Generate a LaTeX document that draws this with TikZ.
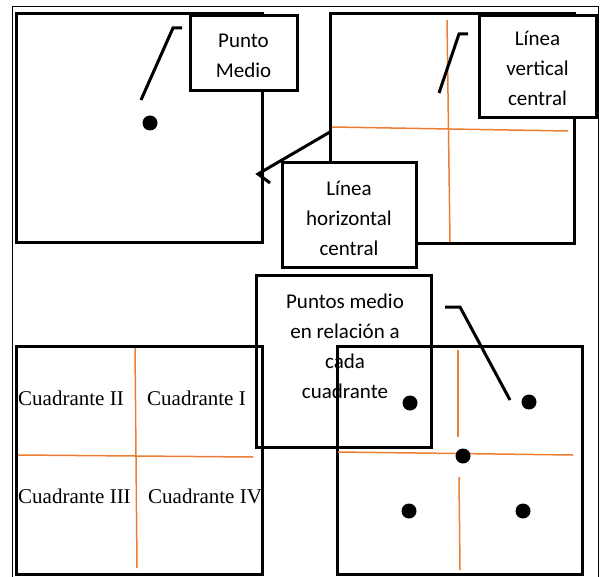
\documentclass[tikz,border=0pt]{standalone}
\usepackage{fontspec}
\setmainfont{Liberation Serif}
\newfontfamily\calibri{Carlito}
\definecolor{accentorange}{RGB}{237,125,49}
\tikzset{
  panel/.style={draw, line width=3bp, minimum width=245bp, minimum height=228bp, inner sep=0pt},
  textbox/.style={draw, fill=white, line width=3bp, inner sep=0pt},
  boxtext/.style={font=\calibri\fontsize{21bp}{30bp}\selectfont, align=center, inner sep=0pt, anchor=base},
  quadtext/.style={font=\fontsize{21bp}{25bp}\selectfont, inner sep=0pt, anchor=base west},
  midline/.style={draw=accentorange, line width=1.5bp},
  middot/.style={circle, fill, inner sep=0pt, minimum size=15bp},
  leader/.style={line width=3bp}
}
\begin{document}
\begin{tikzpicture}[x=1bp, y=-1bp]
\useasboundingbox (0,0) rectangle (606,577);
\clip (0,0) rectangle (606,577);
\draw[line width=1bp] (12,7) rectangle (598,590);
\node[panel] (boxA) at (139.5,128) {};
\node[panel, minimum width=244bp, minimum height=229bp] (boxB) at (452,128.5) {};
\node[middot] (midA) at (150,123) {};
\coordinate (vB1) at (447,20);
\coordinate (vB2) at (450,242);
\coordinate (hB1) at (332,127);
\coordinate (hB2) at (568,131);
\draw[midline] (vB1) -- (vB2);
\draw[midline] (hB1) -- (hB2);
\begin{scope}
\clip (17,346) rectangle (262,574);
\node[quadtext] (q2) at (18,405) {Cuadrante II};
\node[quadtext] (q1) at (147,405) {Cuadrante I};
\node[quadtext] (q3) at (18,503) {Cuadrante III};
\node[quadtext] (q4) at (148,503) {Cuadrante IV};
\end{scope}
\coordinate (vD1) at (135,346);
\coordinate (vD2) at (137,568);
\coordinate (hD1) at (18,455);
\coordinate (hD2) at (253,457);
\draw[midline] (vD1) -- (vD2);
\draw[midline] (hD1) -- (hD2);
\node[panel] (boxD) at (139.5,460) {};
\node[draw, line width=3bp, inner sep=0pt, minimum width=175bp, minimum height=172bp] (tbQuad) at (343.5,361) {};
\node[boxtext] (tbQuadText) at (345,398) {Puntos medio\\en relación a\\cada\\cuadrante};
\node[panel] (boxE) at (459.5,460) {};
\coordinate (vE1) at (458,350);
\coordinate (vE2) at (458,437);
\coordinate (vE3) at (459,477);
\coordinate (vE4) at (460,570);
\coordinate (hE1) at (338,452);
\coordinate (hE2) at (573,455);
\draw[midline] (vE1) -- (vE2);
\draw[midline] (vE3) -- (vE4);
\draw[midline] (hE1) -- (hE2);
\node[middot] (midE0) at (463,456) {};
\node[middot] (midE1) at (529,402) {};
\node[middot] (midE2) at (410,403) {};
\node[middot] (midE3) at (409,511) {};
\node[middot] (midE4) at (523,511) {};
\coordinate (ldA1) at (141,100);
\coordinate (ldA2) at (173,28);
\coordinate (ldA3) at (182,28);
\draw[leader] (ldA1) -- (ldA2) -- (ldA3);
\coordinate (ldB1) at (439,93);
\coordinate (ldB2) at (459,34);
\coordinate (ldB3) at (468,34);
\draw[leader] (ldB1) -- (ldB2) -- (ldB3);
\coordinate (ldH1) at (330,132);
\coordinate (ldH2) at (258,174);
\coordinate (ldH3) at (270,183);
\draw[leader] (ldH1) -- (ldH2) -- (ldH3);
\coordinate (ldE1) at (510,400);
\coordinate (ldE2) at (460,307);
\coordinate (ldE3) at (445,307);
\draw[leader] (ldE1) -- (ldE2) -- (ldE3);
\node[textbox, minimum width=107bp, minimum height=75bp] (tbPunto) at (243.5,53.5) {};
\node[boxtext] (tbPuntoText) at (243.5,78) {Punto\\Medio};
\node[textbox, minimum width=117bp, minimum height=102bp] (tbVert) at (537.5,67) {};
\node[boxtext] (tbVertText) at (537.5,106) {Línea\\vertical\\central};
\node[textbox, minimum width=134bp, minimum height=104bp] (tbHoriz) at (349,215) {};
\node[boxtext] (tbHorizText) at (349,255) {Línea\\horizontal\\central};
\end{tikzpicture}
\end{document}
